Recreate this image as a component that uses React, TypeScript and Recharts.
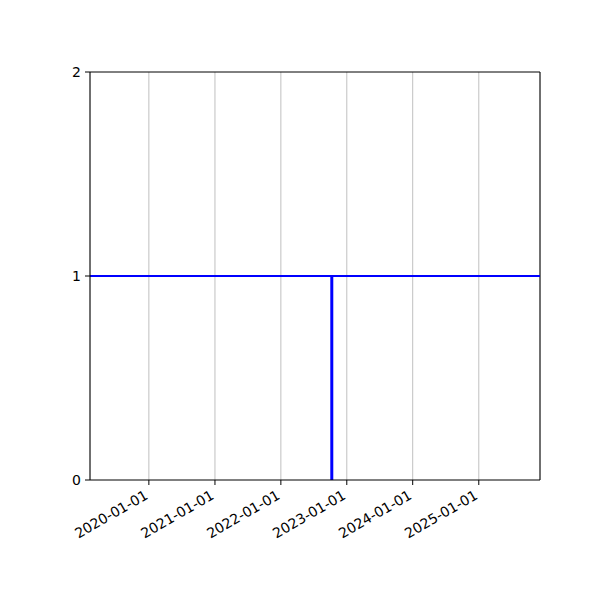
import {
  ComposedChart,
  Line,
  XAxis,
  YAxis,
  CartesianGrid,
  ReferenceLine,
} from "recharts";

// x range of the axes
const xStart = Date.UTC(2019, 1, 9);
const xEnd = Date.UTC(2025, 11, 6);

const yearTicks = [2020, 2021, 2022, 2023, 2024, 2025].map((y) =>
  Date.UTC(y, 0, 1)
);
const yTicks = [0, 1, 2];
const yMax = 2;

// horizontal level and the vertical marker
const levelValue = 1;
const markerDate = Date.UTC(2022, 9, 10);
const markerPoints = [
  { t: markerDate, v: 0 },
  { t: markerDate, v: 1 },
];

const fontFamily = "DejaVu Sans, sans-serif";

function formatDate(t: number) {
  const d = new Date(t);
  const mm = String(d.getUTCMonth() + 1).padStart(2, "0");
  const dd = String(d.getUTCDate()).padStart(2, "0");
  return `${d.getUTCFullYear()}-${mm}-${dd}`;
}

function DateTick(props: any) {
  const { x, y, payload } = props;
  return (
    <g transform={`translate(${x},${y + 11}) rotate(-30)`}>
      <text
        x={0}
        y={0}
        textAnchor="end"
        fontSize={14}
        fontFamily={fontFamily}
        fill="#000"
      >
        {formatDate(payload.value)}
      </text>
    </g>
  );
}

export default function App() {
  return (
    <div style={{ position: "absolute", left: 0, top: 0, background: "#fff" }}>
      <ComposedChart
        width={600}
        height={600}
        data={markerPoints}
        margin={{ top: 72, right: 60, bottom: 0, left: 40 }}
      >
        <CartesianGrid
          xAxisId="bottom"
          yAxisId="left"
          horizontal={false}
          stroke="#b0b0b0"
          strokeWidth={0.8}
        />
        <XAxis
          xAxisId="bottom"
          dataKey="t"
          type="number"
          domain={[xStart, xEnd]}
          ticks={yearTicks}
          interval={0}
          tick={<DateTick />}
          tickSize={5}
          height={120}
          axisLine={{ stroke: "#000", strokeWidth: 1 }}
          tickLine={{ stroke: "#000" }}
          allowDataOverflow
        />
        <YAxis
          yAxisId="left"
          type="number"
          domain={[0, yMax]}
          ticks={yTicks}
          interval={0}
          width={50}
          tickSize={5}
          tickMargin={4}
          axisLine={{ stroke: "#000", strokeWidth: 1 }}
          tickLine={{ stroke: "#000" }}
          tick={{ fill: "#000", fontSize: 14, fontFamily }}
        />
        {/* top and right edges of the frame */}
        <ReferenceLine
          xAxisId="bottom"
          yAxisId="left"
          y={yMax}
          stroke="#000"
          strokeWidth={1}
        />
        <ReferenceLine
          xAxisId="bottom"
          yAxisId="left"
          x={xEnd}
          stroke="#000"
          strokeWidth={1}
        />
        <ReferenceLine
          xAxisId="bottom"
          yAxisId="left"
          y={levelValue}
          stroke="#0000ff"
          strokeWidth={2}
        />
        <Line
          xAxisId="bottom"
          yAxisId="left"
          dataKey="v"
          stroke="#0000ff"
          strokeWidth={3}
          dot={false}
          isAnimationActive={false}
        />
      </ComposedChart>
    </div>
  );
}
